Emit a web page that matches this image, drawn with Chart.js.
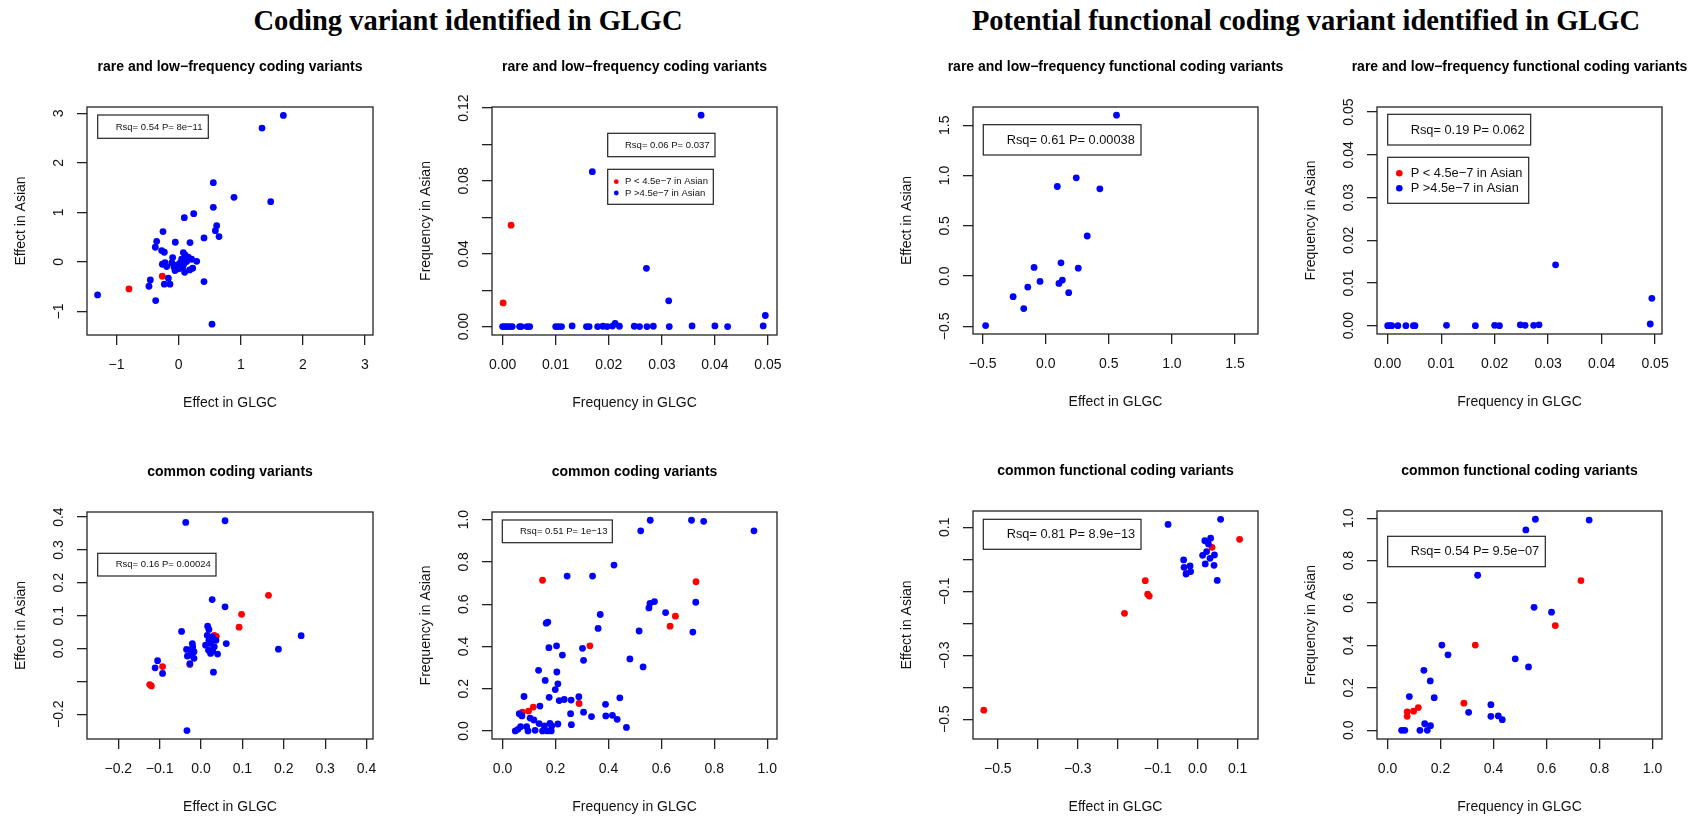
<!DOCTYPE html>
<html><head><meta charset="utf-8">
<script src="https://cdn.jsdelivr.net/npm/chart.js@4.4.1/dist/chart.umd.min.js"></script>
<style>
html,body{margin:0;padding:0;background:#fff;width:1701px;height:817px;overflow:hidden;position:relative}
canvas{position:absolute}
.main{position:absolute;font-family:"Liberation Serif","Times New Roman",serif;font-weight:bold;font-size:28.5px;color:#000;white-space:nowrap;transform:translate(-50%,-50%);line-height:1}
</style></head><body>
<div class="main" style="left:468px;top:21px">Coding variant identified in GLGC</div>
<div class="main" style="left:1306px;top:21px">Potential functional coding variant identified in GLGC</div>
<script>
// ---------------- DATA ----------------
// Panel 1: rare & low-frequency coding variants, effect sizes
const p1BlueX = [1.686,1.342,0.558,0.891,1.482,0.558,0.091,0.242,0.612,0.591,0.650,0.408,0.183,-0.252,-0.354,-0.054,-0.376,-0.274,-0.231,-0.097,0.075,0.102,0.156,0.209,0.290,0.048,0.129,0.021,-0.263,-0.220,-0.193,-0.075,-0.059,0.064,0.097,0.226,0.177,-0.166,0.408,-0.456,-0.478,-0.231,-0.140,-0.370,-1.305,0.537,0.110,0.150,-0.020,0.080,0.000,-0.110];
const p1BlueY = [2.958,2.703,1.600,1.304,1.217,1.103,0.894,0.975,0.733,0.632,0.511,0.484,0.390,0.612,0.417,0.397,0.296,0.229,0.195,0.087,0.188,0.141,0.094,0.054,0.013,0.054,0.007,-0.027,-0.047,-0.013,-0.094,-0.101,-0.175,-0.128,-0.208,-0.128,-0.161,-0.329,-0.397,-0.363,-0.491,-0.450,-0.450,-0.780,-0.666,-1.257,0.030,0.060,-0.060,-0.050,-0.140,-0.020];
const p1RedX = [-0.800,-0.263];
const p1RedY = [-0.545,-0.289];

// Panel 2: rare & low-frequency coding variants, frequencies
const p2BlueX = [0.0000,0.0004,0.0008,0.0013,0.0018,0.0032,0.0035,0.0046,0.0051,0.0100,0.0105,0.0111,0.0131,0.0158,0.0163,0.0179,0.0189,0.0197,0.0207,0.0212,0.0220,0.0248,0.0258,0.0272,0.0284,0.0314,0.0357,0.0400,0.0424,0.0491,0.0495,0.0313,0.0271,0.0169,0.0374];
const p2BlueY = [0,0,0,0,0,0,0,0,0,0,0,0,0.0004,0,0,0,0.0002,0,0.0003,0.0018,0.0002,0.0002,0,0,0.0002,0,0.0004,0.0004,0,0.0004,0.0061,0.01415,0.0320,0.0851,0.1161];
const p2RedX = [0.0001,0.0016];
const p2RedY = [0.0130,0.0557];

// Panel 3: rare & low-frequency functional coding variants, effect sizes
const p3BlueX = [0.561,0.242,0.092,0.429,0.329,0.121,-0.092,0.258,-0.045,0.132,0.105,-0.142,0.182,-0.258,-0.174,-0.476];
const p3BlueY = [1.601,0.977,0.891,0.868,0.399,0.132,0.086,0.079,-0.053,-0.040,-0.073,-0.109,-0.165,-0.205,-0.323,-0.492];
const p3RedX = [];
const p3RedY = [];

// Panel 4: rare & low-frequency functional coding variants, frequencies
const p4BlueX = [0,0.00044,0.00075,0.0019,0.0034,0.0048,0.0051,0.0110,0.0164,0.0200,0.0209,0.0248,0.0257,0.0273,0.0283,0.0314,0.0491,0.0494];
const p4BlueY = [0,0,0,0,0,0,0,0.0001,0,0.0001,0,0.0002,0.0001,0.0001,0.0002,0.01425,0.0004,0.0064];
const p4RedX = [];
const p4RedY = [];

// Panel 5: common coding variants, effect sizes
const p5BlueX = [-0.037,0.058,0.027,0.058,-0.047,0.016,0.019,0.242,0.187,0.061,0.040,0.030,-0.034,-0.105,-0.111,-0.093,-0.021,-0.035,-0.025,-0.017,-0.033,-0.023,-0.017,-0.027,0.011,0.019,0.027,0.018,0.023,0.036,0.032,0.015,0.024,0.028,-0.020];
const p5BlueY = [0.384,0.389,0.149,0.127,0.052,0.068,0.058,0.039,-0.002,0.015,-0.017,-0.072,-0.250,-0.037,-0.059,-0.076,0.015,-0.003,-0.005,-0.010,-0.023,-0.020,-0.030,-0.046,0.010,0.025,0.035,-0.005,-0.015,0.025,0.005,0.040,0.015,-0.008,0.005];
const p5RedX = [0.163,0.098,0.092,0.032,0.037,-0.027,-0.093,-0.124,-0.120];
const p5RedY = [0.162,0.104,0.065,0.040,0.037,-0.049,-0.055,-0.110,-0.114];

// Panel 6: common coding variants, frequencies
const p6BlueX = [0.558,0.714,0.760,0.522,0.950,0.421,0.244,0.340,0.574,0.557,0.553,0.730,0.616,0.369,0.361,0.516,0.719,0.165,0.171,0.175,0.204,0.226,0.302,0.306,0.481,0.531,0.136,0.205,0.161,0.209,0.199,0.176,0.081,0.214,0.233,0.259,0.288,0.443,0.141,0.389,0.063,0.073,0.104,0.118,0.257,0.306,0.336,0.390,0.415,0.433,0.260,0.468,0.138,0.158,0.179,0.186,0.209,0.048,0.058,0.068,0.091,0.096,0.123,0.151,0.169,0.184];
const p6BlueY = [0.997,0.997,0.992,0.947,0.947,0.785,0.733,0.733,0.612,0.604,0.582,0.609,0.560,0.551,0.485,0.473,0.468,0.510,0.515,0.394,0.403,0.359,0.391,0.334,0.341,0.303,0.287,0.279,0.239,0.223,0.196,0.159,0.163,0.144,0.149,0.146,0.162,0.157,0.118,0.126,0.082,0.071,0.061,0.052,0.082,0.089,0.068,0.071,0.074,0.055,0.030,0.017,0.035,0.024,0.036,0.024,0.033,0.000,0.008,0.020,0.020,0.000,0.003,0.000,0.000,0.000];
const p6RedX = [0.151,0.731,0.653,0.633,0.330,0.289,0.116,0.098,0.075];
const p6RedY = [0.713,0.706,0.543,0.496,0.403,0.130,0.113,0.094,0.089];

// Panel 7: common functional coding variants, effect sizes
const p7BlueX = [-0.074,0.0575,0.018,0.0325,0.027,0.0125,0.0225,0.042,0.031,0.019,0.041,0.049,-0.035,-0.034,-0.019,-0.0175,-0.029];
const p7BlueY = [0.109,0.125,0.058,0.066,0.048,0.0125,0.024,0.0135,0.003,-0.0146,-0.019,-0.066,-0.002,-0.025,-0.021,-0.0385,-0.046];
const p7RedX = [0.105,0.036,-0.028,-0.131,-0.125,-0.121,-0.183,-0.535];
const p7RedY = [0.0625,0.0375,-0.044,-0.067,-0.109,-0.115,-0.169,-0.472];

// Panel 8: common functional coding variants, frequencies
const p8BlueX = [0.558,0.761,0.522,0.340,0.553,0.619,0.205,0.228,0.482,0.532,0.137,0.161,0.082,0.176,0.390,0.306,0.390,0.418,0.433,0.140,0.162,0.053,0.065,0.122,0.150];
const p8BlueY = [0.995,0.991,0.945,0.731,0.580,0.557,0.402,0.356,0.337,0.299,0.283,0.233,0.159,0.154,0.121,0.085,0.066,0.068,0.050,0.031,0.022,0.0,0.0,0.0,0.0];
const p8RedX = [0.730,0.633,0.331,0.288,0.116,0.098,0.074,0.074];
const p8RedY = [0.706,0.494,0.402,0.128,0.107,0.090,0.087,0.066];

// Tick values and labels
const ticksP1 = [-1,0,1,2,3];
const labelsP1 = ['\u22121','0','1','2','3'];
const ticksRareFreq = [0,0.01,0.02,0.03,0.04,0.05];
const labelsRareFreq = ['0.00','0.01','0.02','0.03','0.04','0.05'];
const ticksP2Y = [0,0.02,0.04,0.06,0.08,0.10,0.12];
const labelsP2Y = ['0.00','','0.04','','0.08','','0.12'];
const ticksP3 = [-0.5,0,0.5,1,1.5];
const labelsP3 = ['\u22120.5','0.0','0.5','1.0','1.5'];
const ticksP5 = [-0.2,-0.1,0,0.1,0.2,0.3,0.4];
const labelsP5X = ['\u22120.2','\u22120.1','0.0','0.1','0.2','0.3','0.4'];
const labelsP5Y = ['\u22120.2','','0.0','0.1','0.2','0.3','0.4'];
const ticksCommonFreq = [0,0.2,0.4,0.6,0.8,1.0];
const labelsCommonFreq = ['0.0','0.2','0.4','0.6','0.8','1.0'];
const ticksP7 = [-0.5,-0.4,-0.3,-0.2,-0.1,0,0.1];
const labelsP7X = ['\u22120.5','','\u22120.3','','\u22120.1','0.0','0.1'];
const labelsP7Y = ['\u22120.5','','\u22120.3','','\u22120.1','','0.1'];

const panelTitles = ['rare and low\u2212frequency coding variants','rare and low\u2212frequency coding variants',
  'rare and low\u2212frequency functional coding variants','rare and low\u2212frequency functional coding variants',
  'common coding variants','common coding variants','common functional coding variants','common functional coding variants'];
const statTexts = ['Rsq= 0.54 P= 8e\u221211','Rsq= 0.06 P= 0.037','Rsq= 0.61 P= 0.00038','Rsq= 0.19 P= 0.062',
  'Rsq= 0.16 P= 0.00024','Rsq= 0.51 P= 1e\u221213','Rsq= 0.81 P= 8.9e\u221213','Rsq= 0.54 P= 9.5e\u221207'];
const legendTexts = ['P < 4.5e\u22127 in Asian','P >4.5e\u22127 in Asian'];
const effX = 'Effect in GLGC', effY = 'Effect in Asian', frqX = 'Frequency in GLGC', frqY = 'Frequency in Asian';

// ---------------- LAYOUT / STYLE ----------------
const FONT = "'Liberation Sans', Arial, Helvetica, sans-serif";
Chart.defaults.font.family = FONT;
const BLUE = '#0000ff', RED = '#ff0000', INK = '#111111', LINE = '#222222';
const SIDE = 90, TOPH = 58, BOTH = 80;

function statBox(x0,y0,x1,y1,size,textX,textY,text){
  return {x0,y0,x1,y1,size,textX,lines:[{y:textY,text}]};
}
function legBox(x0,y0,x1,y1,size,textX,dotX,dotR,yA,yB){
  return {x0,y0,x1,y1,size,textX,dotX,dotR,lines:[{y:yA,dot:RED,text:legendTexts[0]},{y:yB,dot:BLUE,text:legendTexts[1]}]};
}

const panels = [
 {area:[87,107,373,335], title:panelTitles[0], xt:effX, yt:effY, bx:p1BlueX, by:p1BlueY, rx:p1RedX, ry:p1RedY,
  xr:[-1.4755,3.1285], yr:[-1.4755,3.1285], xTicks:ticksP1, xLabels:labelsP1, yTicks:ticksP1, yLabels:labelsP1,
  boxes:[statBox(10.7,8,121.3,31.3,9.5,28.7,20.3,statTexts[0])]},
 {area:[492,107,777,335], title:panelTitles[1], xt:frqX, yt:frqY, bx:p2BlueX, by:p2BlueY, rx:p2RedX, ry:p2RedY,
  xr:[-0.002,0.0517], yr:[-0.0046,0.1206], xTicks:ticksRareFreq, xLabels:labelsRareFreq, yTicks:ticksP2Y, yLabels:labelsP2Y,
  boxes:[statBox(115.7,26.3,223,49.7,9.5,133,38.7,statTexts[1]), legBox(115.7,62.3,221.3,97.3,9.5,133,124.3,2.4,74.7,86)]},
 {area:[973,107,1258,334], title:panelTitles[2], xt:effX, yt:effY, bx:p3BlueX, by:p3BlueY, rx:p3RedX, ry:p3RedY,
  xr:[-0.576,1.682], yr:[-0.576,1.682], xTicks:ticksP3, xLabels:labelsP3, yTicks:ticksP3, yLabels:labelsP3,
  boxes:[statBox(10.3,17.7,168,48,12.8,33.7,33,statTexts[2])]},
 {area:[1377,107,1662,334], title:panelTitles[3], xt:frqX, yt:frqY, bx:p4BlueX, by:p4BlueY, rx:p4RedX, ry:p4RedY,
  xr:[-0.002,0.0513], yr:[-0.00194,0.0512], xTicks:ticksRareFreq, xLabels:labelsRareFreq, yTicks:ticksRareFreq, yLabels:labelsRareFreq,
  boxes:[statBox(10.7,7.3,153.7,38,12.8,33.7,23,statTexts[3]), legBox(10.7,50.3,151.7,96.3,12.8,33.7,22.3,3.3,66.3,81.3)]},
 {area:[87,512,373,739], title:panelTitles[4], xt:effX, yt:effY, bx:p5BlueX, by:p5BlueY, rx:p5RedX, ry:p5RedY,
  xr:[-0.2756,0.4156], yr:[-0.2756,0.4156], xTicks:ticksP5, xLabels:labelsP5X, yTicks:ticksP5, yLabels:labelsP5Y,
  boxes:[statBox(10.7,41.3,129,64,9.5,28.7,52.7,statTexts[4])]},
 {area:[492,512,777,739], title:panelTitles[5], xt:frqX, yt:frqY, bx:p6BlueX, by:p6BlueY, rx:p6RedX, ry:p6RedY,
  xr:[-0.04,1.037], yr:[-0.038,1.036], xTicks:ticksCommonFreq, xLabels:labelsCommonFreq, yTicks:ticksCommonFreq, yLabels:labelsCommonFreq,
  boxes:[statBox(10.3,8,120.3,30.7,9.5,28,19.3,statTexts[5])]},
 {area:[973,511,1258,739], title:panelTitles[6], xt:effX, yt:effY, bx:p7BlueX, by:p7BlueY, rx:p7RedX, ry:p7RedY,
  xr:[-0.562,0.151], yr:[-0.562,0.151], xTicks:ticksP7, xLabels:labelsP7X, yTicks:ticksP7, yLabels:labelsP7Y,
  boxes:[statBox(10.3,8.3,168,38.3,12.8,33.7,23.7,statTexts[6])]},
 {area:[1377,511,1662,739], title:panelTitles[7], xt:frqX, yt:frqY, bx:p8BlueX, by:p8BlueY, rx:p8RedX, ry:p8RedY,
  xr:[-0.04,1.036], yr:[-0.041,1.034], xTicks:ticksCommonFreq, xLabels:labelsCommonFreq, yTicks:ticksCommonFreq, yLabels:labelsCommonFreq,
  boxes:[statBox(10.7,25.3,168.3,55.7,12.8,33.7,40.7,statTexts[7])]}
];

const measureCtx = document.createElement('canvas').getContext('2d');
measureCtx.font = '14px ' + FONT;
function widest(labels){ return Math.max(...labels.map(l => measureCtx.measureText(l).width)); }
function pts(xs, ys){ return xs.map((x,i) => ({x, y: ys[i]})); }

function framePlugin(p, k){
  return {
    id: 'frame' + k,
    afterDraw(chart){
      const ctx = chart.ctx, a = chart.chartArea;
      ctx.save();
      ctx.strokeStyle = LINE; ctx.lineWidth = 1.3;
      ctx.strokeRect(a.left, a.top, a.right - a.left, a.bottom - a.top);
      p.boxes.forEach(b => {
        ctx.fillStyle = '#fff';
        ctx.fillRect(a.left + b.x0, a.top + b.y0, b.x1 - b.x0, b.y1 - b.y0);
        ctx.lineWidth = 1.2; ctx.strokeStyle = LINE;
        ctx.strokeRect(a.left + b.x0, a.top + b.y0, b.x1 - b.x0, b.y1 - b.y0);
        ctx.font = b.size + 'px ' + FONT;
        ctx.textBaseline = 'middle'; ctx.textAlign = 'left';
        b.lines.forEach(l => {
          if (l.dot) {
            ctx.beginPath(); ctx.arc(a.left + b.dotX, a.top + l.y, b.dotR, 0, Math.PI * 2);
            ctx.fillStyle = l.dot; ctx.fill();
          }
          ctx.fillStyle = INK;
          ctx.fillText(l.text, a.left + b.textX, a.top + l.y);
        });
      });
      ctx.restore();
    }
  };
}

panels.forEach((p, k) => {
  const [L,T,R,B] = p.area;
  const cw = (R - L) + 2 * SIDE, ch = TOPH + (B - T) + BOTH;
  const cv = document.createElement('canvas');
  cv.width = cw; cv.height = ch;
  cv.style.left = (L - SIDE) + 'px'; cv.style.top = (T - TOPH) + 'px';
  cv.style.width = cw + 'px'; cv.style.height = ch + 'px';
  document.body.appendChild(cv);
  const yPad = Math.max(0, 28 - 10 - widest(p.yLabels) / 2);
  const tickFont = {family: FONT, size: 14};
  const grid = {display: true, drawOnChartArea: false, drawTicks: true, tickLength: 10, color: LINE, lineWidth: 1.3};
  new Chart(cv, {
    type: 'scatter',
    data: {datasets: [
      {label: legendTexts[1], data: pts(p.bx, p.by), xAxisID: 'x', yAxisID: 'y',
       backgroundColor: BLUE, borderWidth: 0, pointRadius: 3.4, pointHoverRadius: 3.4},
      {label: legendTexts[0], data: pts(p.rx, p.ry), xAxisID: 'x', yAxisID: 'y',
       backgroundColor: RED, borderWidth: 0, pointRadius: 3.4, pointHoverRadius: 3.4}
    ]},
    options: {
      responsive: false, animation: false, devicePixelRatio: 1,
      layout: {padding: 0},
      plugins: {
        legend: {display: false}, tooltip: {enabled: false},
        title: {display: true, text: p.title, color: '#000', font: {family: FONT, size: 14, weight: 'bold'},
                padding: {top: 9.6, bottom: 31.6}}
      },
      scales: {
        x: {type: 'linear', axis: 'x', position: 'bottom', min: p.xr[0], max: p.xr[1],
            afterBuildTicks: s => { s.ticks = p.xTicks.map(v => ({value: v})); },
            afterFit: s => { s.height = BOTH; s.paddingLeft = 0; s.paddingRight = 0; },
            ticks: {autoSkip: false, maxRotation: 0, minRotation: 0, padding: 11.6, color: INK, font: tickFont,
                    callback: (v, i) => p.xLabels[i]},
            grid: grid, border: {display: false},
            title: {display: true, text: p.xt, color: INK, font: tickFont, padding: {top: 0, bottom: 3.1}}},
        y: {type: 'linear', axis: 'y', position: 'left', min: p.yr[0], max: p.yr[1],
            afterBuildTicks: s => { s.ticks = p.yTicks.map(v => ({value: v})); },
            afterFit: s => { s.width = SIDE; s.paddingTop = 0; s.paddingBottom = 0; },
            ticks: {autoSkip: false, minRotation: 90, maxRotation: 90, crossAlign: 'center', padding: yPad,
                    color: INK, font: tickFont, callback: (v, i) => p.yLabels[i]},
            grid: grid, border: {display: false},
            title: {display: true, text: p.yt, color: INK, font: tickFont, padding: {top: 15.6, bottom: 0}}},
        yr: {type: 'linear', axis: 'y', position: 'right', display: true, min: 0, max: 1,
             afterFit: s => { s.width = SIDE; s.paddingTop = 0; s.paddingBottom = 0; },
             ticks: {display: false}, grid: {display: false}, border: {display: false}}
      }
    },
    plugins: [framePlugin(p, k)]
  });
});
</script>
</body></html>
